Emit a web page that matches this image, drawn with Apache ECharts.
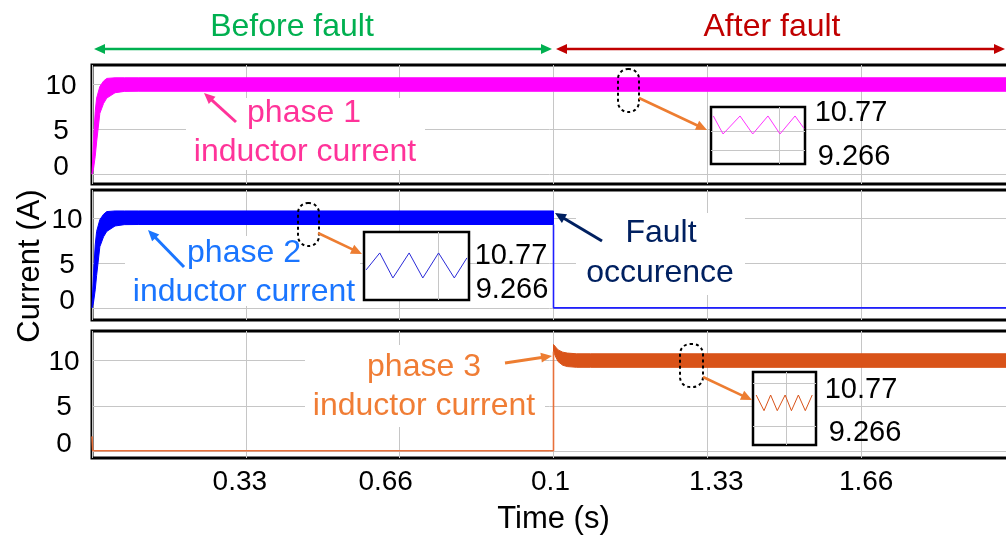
<!DOCTYPE html>
<html><head><meta charset="utf-8">
<script src="https://cdn.jsdelivr.net/npm/echarts@6/dist/echarts.min.js"></script>
<style>html,body{margin:0;padding:0;background:#fff}#c{width:1006px;height:538px}</style>
</head><body><div id="c"></div>
<script>
const FONT = '"Liberation Sans", Arial, sans-serif';

// ---- axis ticks ----
const X_TICK_LABELS = ['', '0.33', '0.66', '0.1', '1.33', '1.66', ''];
const Y_TICKS = [0, 5, 10];

// ---- phase 1 inductor current (envelope of ripple band) ----
const P1_T  = [0, 0.003, 0.007, 0.01, 0.017, 0.025, 0.032, 0.05, 0.07, 0.1, 1.0, 2.0];
const P1_UP = [0, 3.5, 7.0, 8.5, 9.8, 10.4, 10.7, 10.77, 10.77, 10.77, 10.77, 10.77];
const P1_LO = [0, 0.5, 2.0, 3.6, 6.8, 7.9, 8.5, 9.1, 9.25, 9.266, 9.266, 9.266];

// ---- phase 2 inductor current ----
const P2_T  = [0, 0.003, 0.007, 0.01, 0.017, 0.025, 0.032, 0.05, 0.07, 0.1, 1.0];
const P2_UP = [0, 3.5, 7.0, 8.5, 9.8, 10.4, 10.7, 10.77, 10.77, 10.77, 10.77];
const P2_LO = [0, 0.5, 2.0, 3.6, 6.8, 7.9, 8.5, 9.1, 9.25, 9.266, 9.266];
const P2_POST_T = [1.0, 1.0, 2.0];
const P2_POST_I = [9.266, 0, 0];

// ---- phase 3 inductor current ----
const P3_PRE_T = [0, 0.0015, 1.0, 1.0];
const P3_PRE_I = [1.6, 0, 0, 11.0];
const P3_T  = [1.0, 1.005, 1.01, 1.02, 1.03, 1.05, 1.08, 2.0];
const P3_UP = [11.8, 11.5, 11.2, 10.95, 10.85, 10.77, 10.77, 10.77];
const P3_LO = [11.0, 10.4, 9.9, 9.5, 9.35, 9.27, 9.266, 9.266];

// ---- zoomed ripple insets ----
const INSET_LABELS = ['10.77', '9.266'];
const INSET1_X = [0.025, 0.128, 0.309, 0.444, 0.606, 0.734, 0.894, 0.989];
const INSET1_Y = [10.77, 9.266, 10.77, 9.266, 10.77, 9.266, 10.77, 9.74];
const INSET2_X = [0.02, 0.15, 0.275, 0.43, 0.56, 0.71, 0.86, 0.98];
const INSET2_Y = [9.75, 10.77, 9.266, 10.77, 9.266, 10.77, 9.266, 10.47];
const INSET3_X = [0.05, 0.175, 0.28, 0.385, 0.51, 0.61, 0.72, 0.83, 0.94];
const INSET3_Y = [10.77, 9.266, 10.77, 9.266, 10.77, 9.266, 10.77, 9.266, 10.77];

const GRID_C = '#c6c6c6';
const chart = echarts.init(document.getElementById('c'), null, {renderer: 'canvas'});

function pairs(xs, ys) { return xs.map((x, i) => [x, ys[i]]); }

function bandSeries(idx, T, LO, UP, color) {
  return {
    type: 'custom', xAxisIndex: idx, yAxisIndex: idx, z: 2, silent: true,
    data: T.map((t, i) => [t, LO[i], UP[i]]),
    encode: {x: 0, y: [1, 2]},
    renderItem: function (params, api) {
      if (params.dataIndex !== 0) return null;
      const pts = [];
      for (let i = 0; i < T.length; i++) pts.push(api.coord([T[i], UP[i]]));
      for (let i = T.length - 1; i >= 0; i--) pts.push(api.coord([T[i], LO[i]]));
      return {type: 'polygon', shape: {points: pts}, style: {fill: color, stroke: color, lineWidth: 1}};
    },
    markLine: {
      silent: true, symbol: 'none', z: 1, animation: false,
      label: {show: false},
      lineStyle: {color: GRID_C, width: 1, type: 'solid'},
      data: Y_TICKS.map(v => ({yAxis: v}))
    }
  };
}

function lineSeries(idx, xs, ys, color, w, z) {
  return {type: 'line', xAxisIndex: idx, yAxisIndex: idx, data: pairs(xs, ys), symbol: 'none',
    silent: true, z: z || 3, lineStyle: {color: color, width: w}, itemStyle: {color: color}};
}

function insetSeries(idx, xs, ys, color, hLines, vLines) {
  const s = lineSeries(idx, xs, ys, color, 1, 8);
  s.markLine = {silent: true, symbol: 'none', z: 7, animation: false, label: {show: false},
    lineStyle: {color: GRID_C, width: 1, type: 'solid'},
    data: hLines.map(v => ({yAxis: v})).concat(vLines.map(v => ({xAxis: v})))};
  return s;
}

const mainGrids = [
  {left: 92, top: 65, width: 923, height: 119},
  {left: 92, top: 190, width: 923, height: 130},
  {left: 92, top: 331, width: 923, height: 127}
];
const yRanges = [[-1.1, 12.2], [-1.35, 13.1], [-0.8, 13.3]];
const yLabelMargins = [31, 25, 28];

const insetGrids = [
  {left: 711, top: 107, width: 94, height: 57},
  {left: 364, top: 232, width: 105, height: 68},
  {left: 753, top: 372, width: 63, height: 73}
];
const insetY = [[6.76, 11.52], [7.94, 12.03], [5.97, 12.98]];

const grid = mainGrids.map(g => Object.assign({show: true, borderColor: '#000', borderWidth: 3, backgroundColor: 'transparent', z: 0, outerBoundsMode: 'none', containLabel: false}, g))
  .concat(insetGrids.map(g => Object.assign({show: true, borderColor: '#000', borderWidth: 2.5, backgroundColor: '#fff', z: 5, outerBoundsMode: 'none', containLabel: false}, g)));

const xRich = {};
const xShift = [null, [0, 12, 0, 0], [0, 28, 0, 0], [0, 6, 0, 0], [0, 0, 0, 18], [0, 0, 0, 10], null];
xShift.forEach((p, i) => { if (p) xRich['a' + i] = {padding: p, fontSize: 28, fontFamily: FONT, color: '#000'}; });

const xAxis = mainGrids.map((g, i) => ({
  gridIndex: i, type: 'value', min: 0, max: 2, interval: 1 / 3,
  axisLine: {show: false}, axisTick: {show: false},
  splitLine: {show: true, lineStyle: {color: GRID_C, width: 1}},
  axisLabel: i === 2 ? {
    show: true, margin: 10, fontSize: 28, fontFamily: FONT, color: '#000', rich: xRich,
    showMinLabel: false, showMaxLabel: false,
    formatter: function (v) { const k = Math.round(v * 3); const s = X_TICK_LABELS[k] || ''; return s ? '{a' + k + '|' + s + '}' : ''; }
  } : {show: false},
  name: i === 2 ? 'Time (s)' : '', nameLocation: 'middle', nameGap: 46,
  nameTextStyle: {fontSize: 31, fontFamily: FONT, color: '#000'}
})).concat(insetGrids.map((g, i) => ({gridIndex: 3 + i, type: 'value', min: 0, max: 1, show: false})));

const yAxis = mainGrids.map((g, i) => ({
  gridIndex: i, type: 'value', min: yRanges[i][0], max: yRanges[i][1],
  axisLine: {show: false}, axisTick: {show: false}, splitLine: {show: false},
  axisLabel: {
    customValues: Y_TICKS, align: 'center', margin: yLabelMargins[i], fontSize: 28, fontFamily: FONT, color: '#000',
    formatter: function (v) { return v === 0 ? '{z|0}' : '{n|' + v + '}'; },
    rich: {
      z: {padding: [0, 0, 14, 0], fontSize: 28, fontFamily: FONT, color: '#000'},
      n: {padding: [4, 0, 0, 0], fontSize: 28, fontFamily: FONT, color: '#000'}
    }
  }
})).concat(insetGrids.map((g, i) => ({gridIndex: 3 + i, type: 'value', min: insetY[i][0], max: insetY[i][1], show: false})));

const series = [
  bandSeries(0, P1_T, P1_LO, P1_UP, '#ff00ff'),
  bandSeries(1, P2_T, P2_LO, P2_UP, '#0000ff'),
  lineSeries(1, P2_POST_T, P2_POST_I, '#1f1fff', 1.6),
  bandSeries(2, P3_T, P3_LO, P3_UP, '#d95319'),
  lineSeries(2, P3_PRE_T, P3_PRE_I, '#e8703a', 1.6),
  insetSeries(3, INSET1_X, INSET1_Y, '#ff33ff', [9.52, 7.93], [0.734]),
  insetSeries(4, INSET2_X, INSET2_Y, '#2a2ad8', [], [0.71]),
  insetSeries(5, INSET3_X, INSET3_Y, '#d95319', [11.92, 7.79], [0.52])
];

// ---- annotations ----
function arrow(x1, y1, x2, y2, color, w, hl, hw, both) {
  const a = Math.atan2(y2 - y1, x2 - x1), c = Math.cos(a), s = Math.sin(a);
  const lx2 = x2 - c * hl * 0.8, ly2 = y2 - s * hl * 0.8;
  const lx1 = both ? x1 + c * hl * 0.8 : x1, ly1 = both ? y1 + s * hl * 0.8 : y1;
  const head = (tx, ty, cc, ss) => ({type: 'polygon', z: 22, silent: true,
    shape: {points: [[tx, ty], [tx - cc * hl - ss * hw, ty - ss * hl + cc * hw], [tx - cc * hl + ss * hw, ty - ss * hl - cc * hw]]},
    style: {fill: color}});
  const els = [{type: 'line', z: 22, silent: true, shape: {x1: lx1, y1: ly1, x2: lx2, y2: ly2}, style: {stroke: color, lineWidth: w}}, head(x2, y2, c, s)];
  if (both) els.push(head(x1, y1, -c, -s));
  return els;
}
function txt(text, x, y, color, size, extra) {
  return Object.assign({type: 'text', z: 23, silent: true, x: x, y: y,
    style: {text: text, fill: color, font: size + 'px ' + FONT, align: 'center', verticalAlign: 'middle'}}, extra || {});
}
function whiteBox(x, y, w, h) {
  return {type: 'rect', z: 20, silent: true, shape: {x: x, y: y, width: w, height: h}, style: {fill: '#fff'}};
}
function dashed(x, y, w, h) {
  return {type: 'rect', z: 21, silent: true, shape: {x: x, y: y, width: w, height: h, r: 10},
    style: {fill: 'none', stroke: '#000', lineWidth: 2, lineDash: [3, 3]}};
}

const PINK = '#ff3399', BLUE_T = '#1a75ff', NAVY = '#002060', ORANGE_T = '#f07d35', ARW_O = '#ed7d31';
const graphics = [].concat(
  [whiteBox(186, 98, 239, 72), whiteBox(125, 236, 235, 70), whiteBox(576, 213, 169, 82), whiteBox(305, 345, 240, 82)],
  arrow(94, 49, 552, 49, '#00b050', 2.5, 11, 5, true),
  arrow(556, 49, 1005, 49, '#c00000', 2.5, 11, 5, true),
  [txt('Before fault', 292, 27, '#00b050', 32), txt('After fault', 772, 27, '#c00000', 32)],
  [txt('phase 1', 304, 113, PINK, 32), txt('inductor current', 305, 152, PINK, 32)],
  arrow(236, 122, 204, 93, PINK, 3, 11, 5),
  [txt('phase 2', 244, 253, BLUE_T, 32), txt('inductor current', 244, 292, BLUE_T, 32)],
  arrow(184, 267, 148, 230, BLUE_T, 3, 11, 5),
  [txt('Fault', 661, 233, NAVY, 32), txt('occurence', 660, 273, NAVY, 32)],
  arrow(602, 241, 555, 213, NAVY, 3, 11, 5),
  [txt('phase 3', 424, 367, ORANGE_T, 32), txt('inductor current', 424, 406, ORANGE_T, 32)],
  arrow(505, 363, 552, 356, ARW_O, 3, 11, 5),
  [dashed(618, 69, 21, 43), dashed(298, 203, 21, 43), dashed(680, 344, 23, 43)],
  arrow(639, 98, 707, 130, ARW_O, 2.5, 11, 5),
  arrow(318, 233, 362, 254, ARW_O, 2.5, 11, 5),
  arrow(703, 377, 752, 400, ARW_O, 2.5, 11, 5),
  [txt(INSET_LABELS[0], 851, 113, '#000', 29), txt(INSET_LABELS[1], 854, 157, '#000', 29),
   txt(INSET_LABELS[0], 511, 256, '#000', 29), txt(INSET_LABELS[1], 512, 290, '#000', 29),
   txt(INSET_LABELS[0], 861, 390, '#000', 29), txt(INSET_LABELS[1], 865, 433, '#000', 29)],
  [txt('Current (A)', 30, 266, '#000', 31, {rotation: Math.PI / 2})]
);

chart.setOption({
  animation: false,
  backgroundColor: '#fff',
  textStyle: {fontFamily: FONT},
  grid: grid, xAxis: xAxis, yAxis: yAxis, series: series,
  graphic: {elements: graphics}
});
</script></body></html>
